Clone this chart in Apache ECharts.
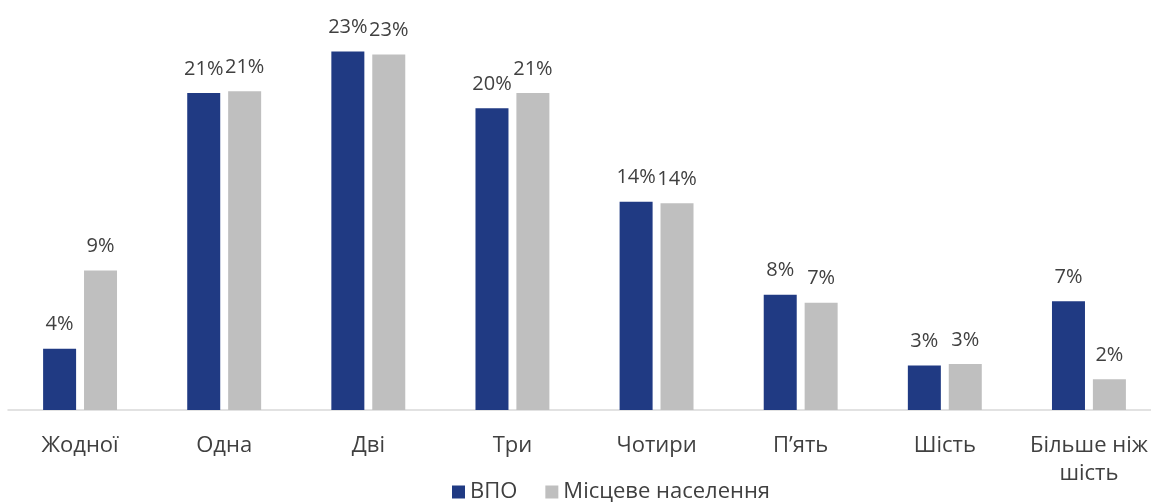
<!DOCTYPE html>
<html><head><meta charset="utf-8">
<script src="https://cdn.jsdelivr.net/npm/echarts@6/dist/echarts.min.js"></script>
<style>html,body{margin:0;padding:0;background:#fff;overflow:hidden}#c{width:1161px;height:502px}</style>
</head><body><div id="c"></div>
<script>
const categories = ['Жодної','Одна','Дві','Три','Чотири','П’ять','Шість','Більше ніж\nшість'];
const vpo = [4.0, 20.7, 23.4, 19.7, 13.6, 7.52, 2.9, 7.1];
const local = [9.1, 20.8, 23.2, 20.7, 13.5, 7.0, 3.0, 2.0];
const seriesNames = ['ВПО', 'Місцеве населення'];

const font = '"Open Sans", "Noto Sans", sans-serif';
const chart = echarts.init(document.getElementById('c'), null, {renderer:'canvas'});
const lbl = {show:true, position:'top', distance:14, color:'#404040', fontSize:20, fontFamily:font,
  formatter: p => Math.round(p.value) + '%'};
chart.setOption({
  animation:false,
  grid:{left:8, right:0, top:27, height:383, containLabel:false},
  legend:{top:476, left:447, itemWidth:13, itemHeight:13, itemGap:28,
    icon:'rect', textStyle:{color:'#404040', fontSize:22, fontFamily:font, padding:[0,0,0,0]},
    data:seriesNames},
  xAxis:{type:'category', data:categories,
    axisLine:{lineStyle:{color:'#d9d9d9', width:1.5}}, axisTick:{show:false},
    axisLabel:{color:'#404040', fontSize:22, fontFamily:font, margin:22, lineHeight:28, interval:0}},
  yAxis:{type:'value', min:0, max:25, show:false, splitLine:{show:false}},
  series:[
    {name:seriesNames[0], type:'bar', data:vpo, barWidth:33, barGap:'24%',
     itemStyle:{color:'#203a83'}, label:lbl},
    {name:seriesNames[1], type:'bar', data:local, barWidth:33,
     itemStyle:{color:'#bfbfbf'}, label:lbl}
  ]
});
</script></body></html>
